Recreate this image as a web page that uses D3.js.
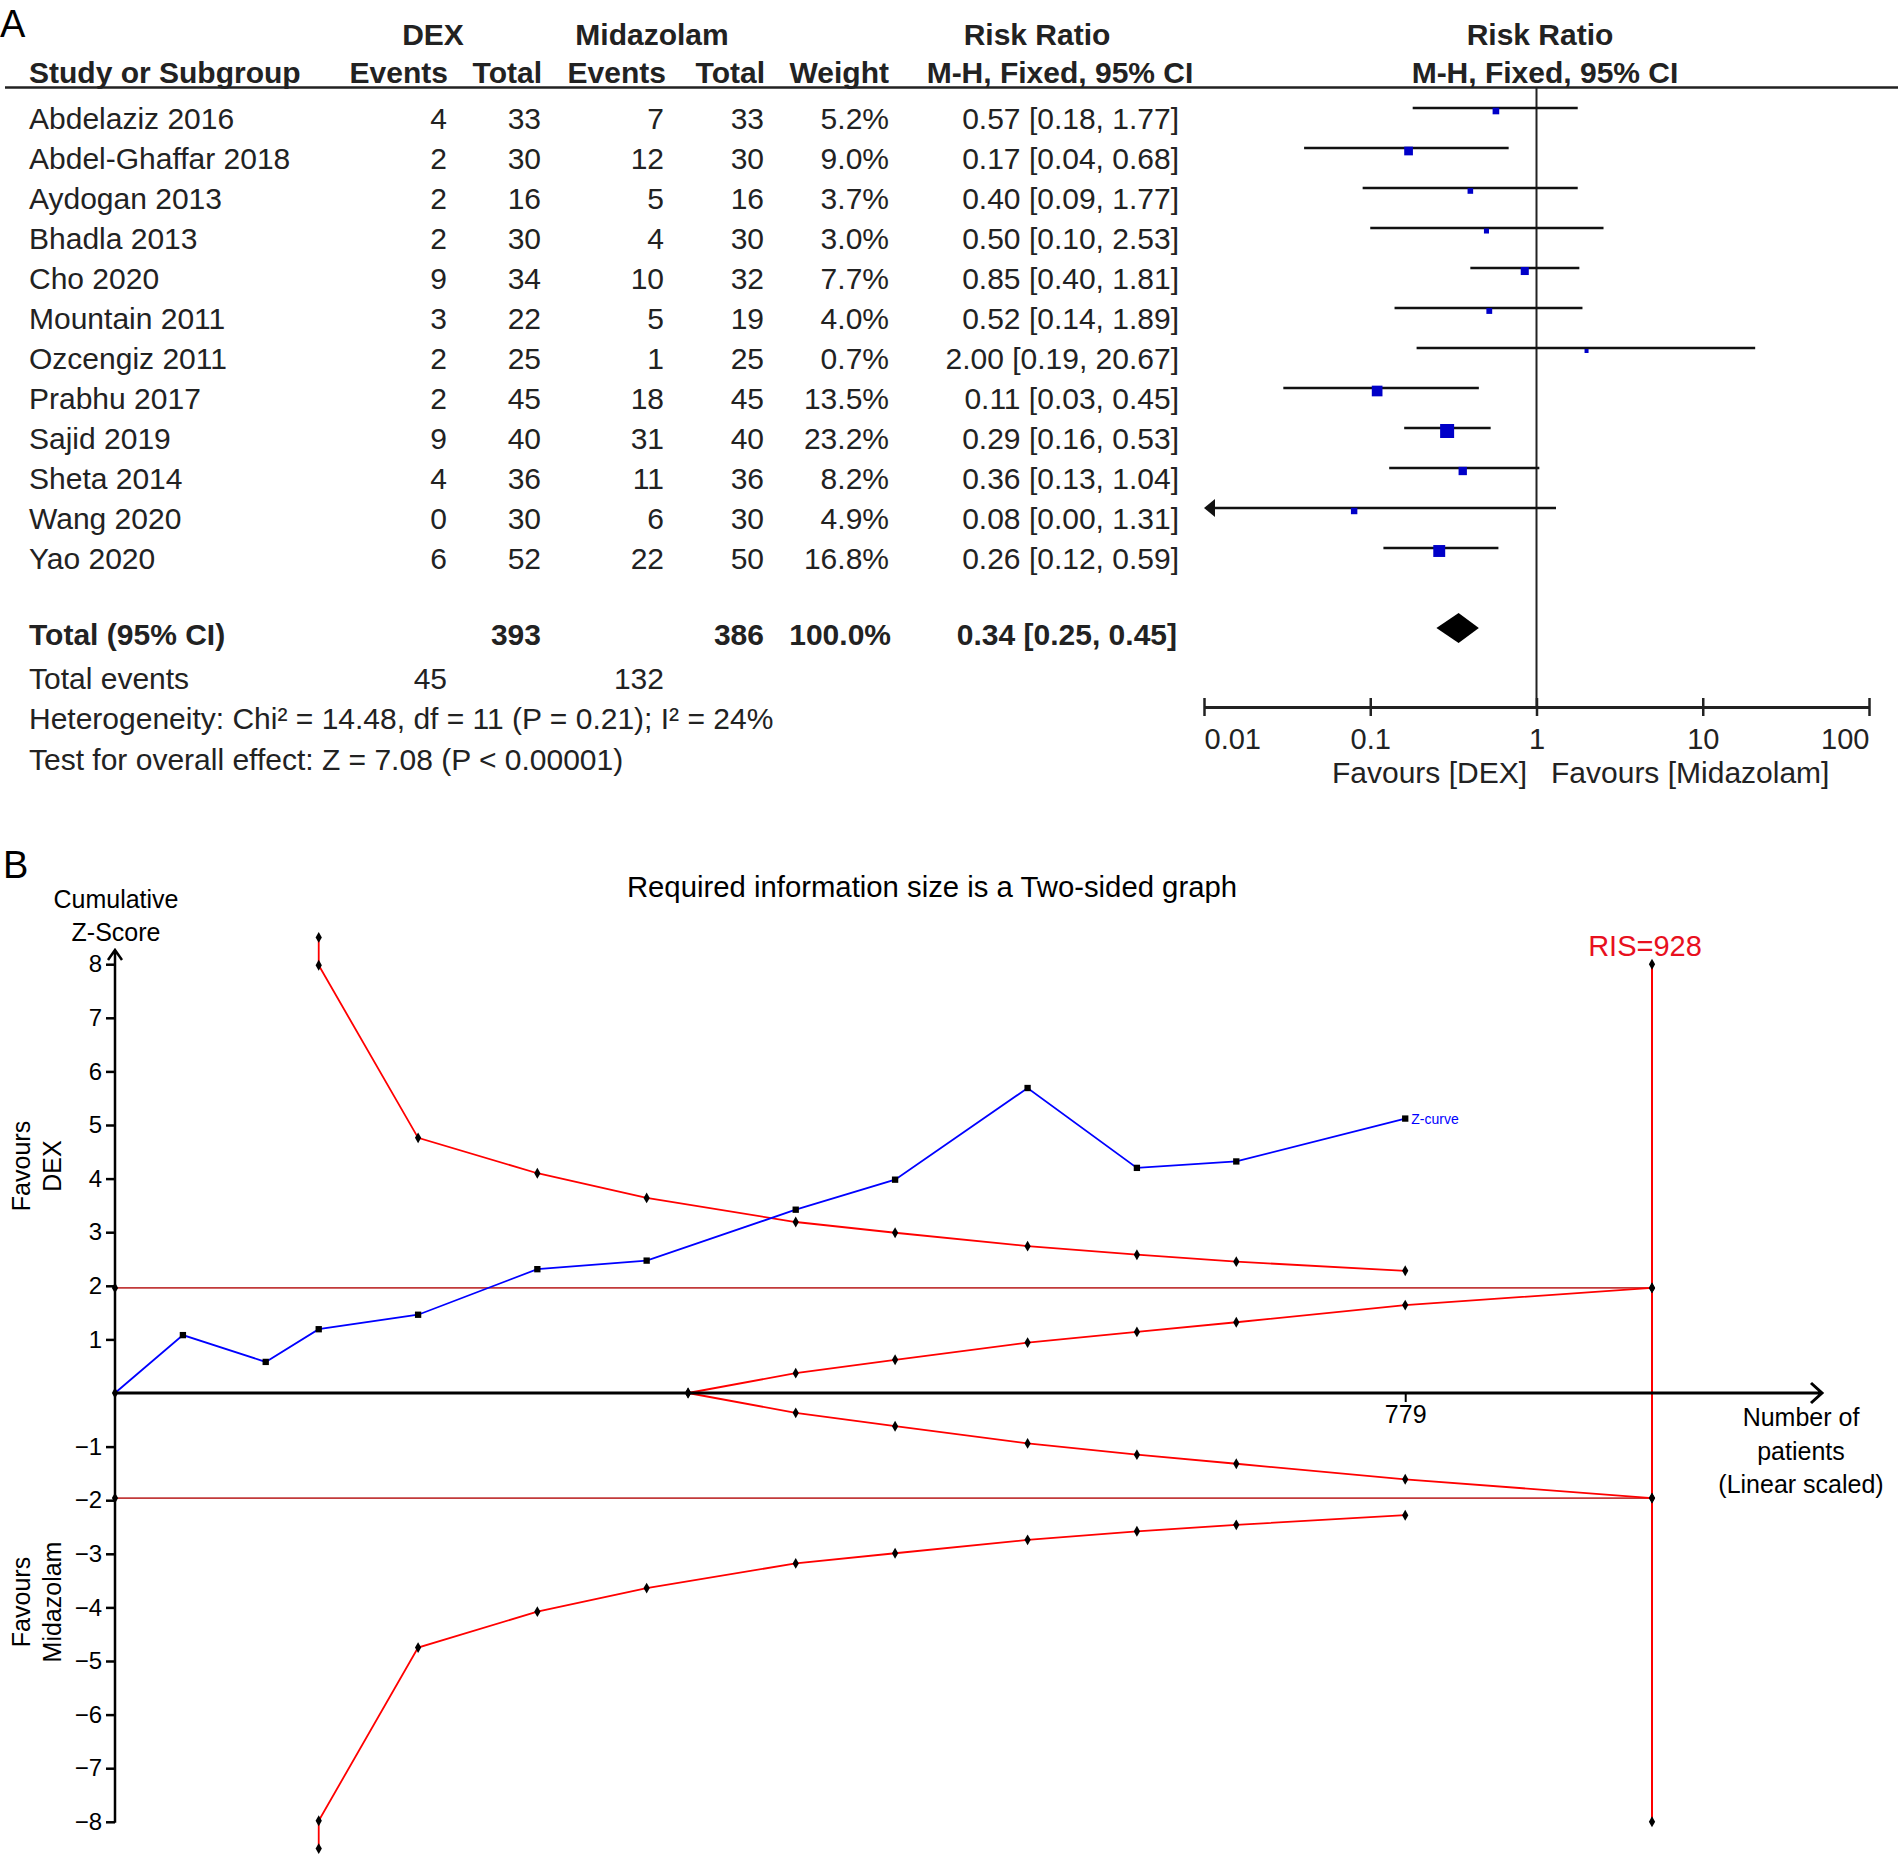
<!DOCTYPE html>
<html>
<head>
<meta charset="utf-8">
<script src="https://cdn.jsdelivr.net/npm/d3@7"></script>
<style>
  body { margin: 0; background: #fff; }
  svg { display: block; font-family: "Liberation Sans", Arial, sans-serif; }
</style>
</head>
<body>
<svg width="1898" height="1856"></svg>
<script>
// panel A: forest plot
const studies = ["Abdelaziz 2016", "Abdel-Ghaffar 2018", "Aydogan 2013", "Bhadla 2013", "Cho 2020",
    "Mountain 2011", "Ozcengiz 2011", "Prabhu 2017", "Sajid 2019", "Sheta 2014", "Wang 2020", "Yao 2020"];
const dexEvents = [4, 2, 2, 2, 9, 3, 2, 2, 9, 4, 0, 6];
const dexTotal = [33, 30, 16, 30, 34, 22, 25, 45, 40, 36, 30, 52];
const midEvents = [7, 12, 5, 4, 10, 5, 1, 18, 31, 11, 6, 22];
const midTotal = [33, 30, 16, 30, 32, 19, 25, 45, 40, 36, 30, 50];
const weights = [5.2, 9.0, 3.7, 3.0, 7.7, 4.0, 0.7, 13.5, 23.2, 8.2, 4.9, 16.8];
const rr = [0.57, 0.17, 0.40, 0.50, 0.85, 0.52, 2.00, 0.11, 0.29, 0.36, 0.08, 0.26];
const rrLow = [0.18, 0.04, 0.09, 0.10, 0.40, 0.14, 0.19, 0.03, 0.16, 0.13, 0.00, 0.12];
const rrHigh = [1.77, 0.68, 1.77, 2.53, 1.81, 1.89, 20.67, 0.45, 0.53, 1.04, 1.31, 0.59];
const totalRR = [0.34, 0.25, 0.45];
const totalN = [393, 386];
const totalEvents = [45, 132];
const forestTicks = [0.01, 0.1, 1, 10, 100];
const heterogeneityText = "Heterogeneity: Chi² = 14.48, df = 11 (P = 0.21); I² = 24%";
const overallText = "Test for overall effect: Z = 7.08 (P < 0.00001)";

// panel B: trial sequential analysis
const tsaPatients = [0, 41, 91, 123, 183, 255, 321, 411, 471, 551, 617, 677, 779];
const zCurve = [0, 1.08, 0.58, 1.19, 1.46, 2.31, 2.47, 3.42, 3.98, 5.69, 4.20, 4.32, 5.12];
const boundN = [123, 123, 183, 255, 321, 411, 471, 551, 617, 677, 779];
const upperBound = [8.5, 7.98, 4.76, 4.10, 3.64, 3.19, 2.99, 2.74, 2.58, 2.45, 2.28];
const lowerBound = [-8.5, -7.98, -4.75, -4.08, -3.64, -3.18, -2.99, -2.74, -2.58, -2.46, -2.28];
const innerN = [346, 411, 471, 551, 617, 677, 779, 928];
const innerUpper = [0, 0.37, 0.62, 0.94, 1.14, 1.32, 1.64, 1.96];
const innerLower = [0, -0.37, -0.62, -0.94, -1.15, -1.32, -1.61, -1.96];
const risSize = 928;
const conventionalZ = 1.96;
const zTicks = [8, 7, 6, 5, 4, 3, 2, 1, -1, -2, -3, -4, -5, -6, -7, -8];

function add_text(g, x, y, str, anchor, opts) {
    const t = g.append("text")
        .attr("x", x)
        .attr("y", y)
        .attr("text-anchor", anchor || "start")
        .text(str);
    if (opts) Object.keys(opts).forEach(k => t.attr(k, opts[k]));
    return t;
}

document.addEventListener("DOMContentLoaded", function() {
    const svg = d3.select("svg");
    const width = +svg.attr("width");

    svg.append("rect").attr("width", width).attr("height", +svg.attr("height")).attr("fill", "#fff");

    // ---------- A ----------
    const a = svg.append("g").attr("font-size", 30).attr("fill", "#222");
    add_text(a, 0, 37, "A", "start", { "font-size": 38, fill: "#000" });

    const head = a.append("g").attr("font-weight", "bold");
    add_text(head, 433, 45, "DEX", "middle");
    add_text(head, 652, 45, "Midazolam", "middle");
    add_text(head, 1037, 45, "Risk Ratio", "middle");
    add_text(head, 1540, 45, "Risk Ratio", "middle");
    add_text(head, 29, 83, "Study or Subgroup");
    add_text(head, 448, 83, "Events", "end");
    add_text(head, 542, 83, "Total", "end");
    add_text(head, 666, 83, "Events", "end");
    add_text(head, 765, 83, "Total", "end");
    add_text(head, 889, 83, "Weight", "end");
    add_text(head, 1060, 83, "M-H, Fixed, 95% CI", "middle");
    add_text(head, 1545, 83, "M-H, Fixed, 95% CI", "middle");

    a.append("line")
        .attr("x1", 5).attr("x2", width)
        .attr("y1", 87.5).attr("y2", 87.5)
        .attr("stroke", "#222").attr("stroke-width", 2.5);

    const rowY = d3.scaleLinear().domain([0, studies.length - 1]).range([118, 558]);
    const fmt2 = d3.format(".2f");
    const fmtW = d3.format(".1f");
    const ciText = (m, lo, hi) => `${fmt2(m)} [${fmt2(lo)}, ${fmt2(hi)}]`;

    const cols = [
        { x: 447, v: dexEvents, f: d => d },
        { x: 541, v: dexTotal, f: d => d },
        { x: 664, v: midEvents, f: d => d },
        { x: 764, v: midTotal, f: d => d },
        { x: 889, v: weights, f: d => fmtW(d) + "%" }
    ];

    const rows = a.selectAll("g.row")
        .data(studies)
        .enter()
        .append("g")
        .attr("class", "row")
        .attr("transform", (d, i) => `translate(0,${rowY(i) + 10.5})`);
    rows.append("text").attr("x", 29).text(d => d);
    cols.forEach(c => {
        rows.append("text")
            .attr("x", c.x)
            .attr("text-anchor", "end")
            .text((d, i) => c.f(c.v[i]));
    });
    rows.append("text")
        .attr("x", 1179)
        .attr("text-anchor", "end")
        .text((d, i) => ciText(rr[i], rrLow[i], rrHigh[i]));

    const totalBase = 645;
    const tot = a.append("g").attr("font-weight", "bold");
    add_text(tot, 29, totalBase, "Total (95% CI)");
    add_text(tot, 541, totalBase, totalN[0], "end");
    add_text(tot, 764, totalBase, totalN[1], "end");
    add_text(tot, 891, totalBase, "100.0%", "end");
    add_text(tot, 1177, totalBase, ciText(totalRR[0], totalRR[1], totalRR[2]), "end");

    add_text(a, 29, 689, "Total events");
    add_text(a, 447, 689, totalEvents[0], "end");
    add_text(a, 664, 689, totalEvents[1], "end");
    add_text(a, 29, 729, heterogeneityText);
    add_text(a, 29, 770, overallText);

    // forest
    const xLog = d3.scaleLog().domain([0.01, 100]).range([1204, 1869]);
    const axisY = 707;
    const size = d3.scaleSqrt().domain([0, d3.max(weights)]).range([0, 14]);

    a.append("line")
        .attr("x1", xLog(1)).attr("x2", xLog(1))
        .attr("y1", 87).attr("y2", axisY)
        .attr("stroke", "#222").attr("stroke-width", 2);

    const ciY = i => rowY(i) - 10;
    const forest = a.append("g");
    forest.selectAll("line.ci")
        .data(studies)
        .enter()
        .append("line")
        .attr("class", "ci")
        .attr("x1", (d, i) => rrLow[i] < 0.01 ? xLog(0.01) + 6 : xLog(rrLow[i]))
        .attr("x2", (d, i) => xLog(rrHigh[i]))
        .attr("y1", (d, i) => ciY(i))
        .attr("y2", (d, i) => ciY(i))
        .attr("stroke", "#111").attr("stroke-width", 2.5);

    // left arrow where the CI runs off the scale
    forest.selectAll("path.arrow")
        .data(studies.filter((d, i) => rrLow[i] < 0.01))
        .enter()
        .append("path")
        .attr("class", "arrow")
        .attr("d", d => {
            const i = studies.indexOf(d);
            const x0 = xLog(0.01), y0 = ciY(i);
            return `M${x0},${y0} L${x0 + 11},${y0 - 9} L${x0 + 11},${y0 + 9} Z`;
        })
        .attr("fill", "#111");

    forest.selectAll("rect.box")
        .data(studies)
        .enter()
        .append("rect")
        .attr("class", "box")
        .each(function(d, i) {
            const s = Math.max(4, size(weights[i]));
            d3.select(this)
                .attr("x", xLog(rr[i]) - s / 2)
                .attr("y", ciY(i) + 3 - s / 2)
                .attr("width", s)
                .attr("height", s);
        })
        .attr("fill", "#0000c8");

    const dY = 628;
    forest.append("path")
        .attr("d", `M${xLog(totalRR[1])},${dY} L${xLog(totalRR[0])},${dY - 15} L${xLog(totalRR[2])},${dY} L${xLog(totalRR[0])},${dY + 15} Z`)
        .attr("fill", "#000");

    const fAxis = a.append("g")
        .attr("transform", `translate(0,${axisY})`)
        .call(d3.axisBottom(xLog).tickValues(forestTicks).tickSizeOuter(0).tickFormat(d => String(d)));
    fAxis.select(".domain").attr("stroke", "#222").attr("stroke-width", 3);
    fAxis.selectAll(".tick line").attr("y1", -9).attr("y2", 9).attr("stroke", "#222").attr("stroke-width", 2.5);
    fAxis.selectAll(".tick text")
        .attr("y", 21)
        .attr("font-size", 29)
        .attr("font-family", "Liberation Sans, Arial, sans-serif")
        .attr("fill", "#222")
        .attr("text-anchor", (d, i, n) => i === 0 ? "start" : (i === n.length - 1 ? "end" : "middle"));
    add_text(a, 1527, 783, "Favours [DEX]", "end");
    add_text(a, 1551, 783, "Favours [Midazolam]");

    // ---------- B ----------
    const b = svg.append("g").attr("fill", "#000");
    add_text(b, 3, 878, "B", "start", { "font-size": 38 });
    add_text(b, 932, 897, "Required information size is a Two-sided graph", "middle", { "font-size": 29.3 });
    add_text(b, 116, 908, "Cumulative", "middle", { "font-size": 25 });
    add_text(b, 116, 941, "Z-Score", "middle", { "font-size": 25 });

    const zx = d3.scaleLinear().domain([0, risSize]).range([115, 1652]);
    const zy = d3.scaleLinear().domain([-8, 8]).range([1821.8, 964.2]);
    const line = d3.line().x(d => zx(d[0])).y(d => zy(d[1]));
    const zip = (xs, ys) => xs.map((x, i) => [x, ys[i]]);

    // conventional boundaries
    [conventionalZ, -conventionalZ].forEach(z => {
        b.append("line")
            .attr("x1", zx(0)).attr("x2", zx(risSize))
            .attr("y1", zy(z)).attr("y2", zy(z))
            .attr("stroke", "#c23a3a").attr("stroke-width", 1.8);
    });

    // RIS line
    b.append("line")
        .attr("x1", zx(risSize)).attr("x2", zx(risSize))
        .attr("y1", zy(8)).attr("y2", zy(-8))
        .attr("stroke", "#f00").attr("stroke-width", 2);

    const redSeries = [
        zip(boundN, upperBound),
        zip(boundN, lowerBound),
        zip(innerN, innerUpper),
        zip(innerN, innerLower)
    ];
    b.selectAll("path.bound")
        .data(redSeries)
        .enter()
        .append("path")
        .attr("class", "bound")
        .attr("d", line)
        .attr("fill", "none")
        .attr("stroke", "#f00")
        .attr("stroke-width", 1.8);

    const zData = zip(tsaPatients, zCurve);
    b.append("path")
        .attr("d", line(zData))
        .attr("fill", "none")
        .attr("stroke", "#00f")
        .attr("stroke-width", 1.8);

    // axes
    const yAxis = b.append("g")
        .attr("transform", `translate(${zx(0)},0)`)
        .call(d3.axisLeft(zy).tickValues(zTicks).tickSize(9).tickPadding(4).tickFormat(d3.format("d")));
    yAxis.select(".domain").remove();
    yAxis.selectAll(".tick line").attr("stroke", "#000").attr("stroke-width", 2.5);
    yAxis.selectAll(".tick text")
        .attr("font-size", 24)
        .attr("font-family", "Liberation Sans, Arial, sans-serif")
        .attr("fill", "#000");

    const xAxis = b.append("g")
        .attr("transform", `translate(0,${zy(0)})`)
        .call(d3.axisBottom(zx).tickValues([d3.max(tsaPatients)]).tickSize(9).tickSizeOuter(0));
    xAxis.select(".domain").remove();
    xAxis.selectAll(".tick line").attr("stroke", "#000").attr("stroke-width", 2);
    xAxis.selectAll(".tick text")
        .attr("font-size", 25)
        .attr("font-family", "Liberation Sans, Arial, sans-serif")
        .attr("fill", "#000");

    const x0 = zx(0), y0 = zy(0), yTop = 950, xEnd = 1822;
    b.append("path")
        .attr("d", `M${x0},${zy(-8) + 1} L${x0},${yTop} M${x0 - 7},${yTop + 10} L${x0},${yTop} L${x0 + 7},${yTop + 10}`)
        .attr("fill", "none").attr("stroke", "#000").attr("stroke-width", 2.5);
    b.append("path")
        .attr("d", `M${x0},${y0} L${xEnd},${y0} M${xEnd - 11},${y0 - 10} L${xEnd},${y0} L${xEnd - 11},${y0 + 10}`)
        .attr("fill", "none").attr("stroke", "#000").attr("stroke-width", 3);

    // markers
    const diamond = d3.symbol().type(d3.symbolDiamond).size(34);
    const square = d3.symbol().type(d3.symbolSquare).size(40);
    const diamondPts = redSeries.flat().concat([
        [0, conventionalZ], [0, -conventionalZ], [0, 0],
        [risSize, 8], [risSize, conventionalZ], [risSize, -conventionalZ], [risSize, -8]
    ]);
    b.selectAll("path.dm")
        .data(diamondPts)
        .enter()
        .append("path")
        .attr("class", "dm")
        .attr("d", diamond)
        .attr("transform", d => `translate(${zx(d[0])},${zy(d[1])})`)
        .attr("fill", "#000");
    b.selectAll("path.sq")
        .data(zData.slice(1))
        .enter()
        .append("path")
        .attr("class", "sq")
        .attr("d", square)
        .attr("transform", d => `translate(${zx(d[0])},${zy(d[1])})`)
        .attr("fill", "#000");

    const last = zData[zData.length - 1];
    add_text(b, zx(last[0]) + 6, zy(last[1]) + 5, "Z-curve", "start", { "font-size": 14, fill: "#00f" });
    add_text(b, zx(risSize) - 7, 956, "RIS=" + risSize, "middle", { "font-size": 29, fill: "#e8101e" });

    add_text(b, 1801, 1426, "Number of", "middle", { "font-size": 25 });
    add_text(b, 1801, 1460, "patients", "middle", { "font-size": 25 });
    add_text(b, 1801, 1493, "(Linear scaled)", "middle", { "font-size": 25 });

    const rot = [["Favours", 30, 1166], ["DEX", 61, 1166], ["Favours", 30, 1602], ["Midazolam", 61, 1602]];
    b.selectAll("text.rot")
        .data(rot)
        .enter()
        .append("text")
        .attr("class", "rot")
        .attr("transform", d => `translate(${d[1]},${d[2]}) rotate(-90)`)
        .attr("text-anchor", "middle")
        .attr("font-size", 25)
        .text(d => d[0]);
});
</script>
</body>
</html>
